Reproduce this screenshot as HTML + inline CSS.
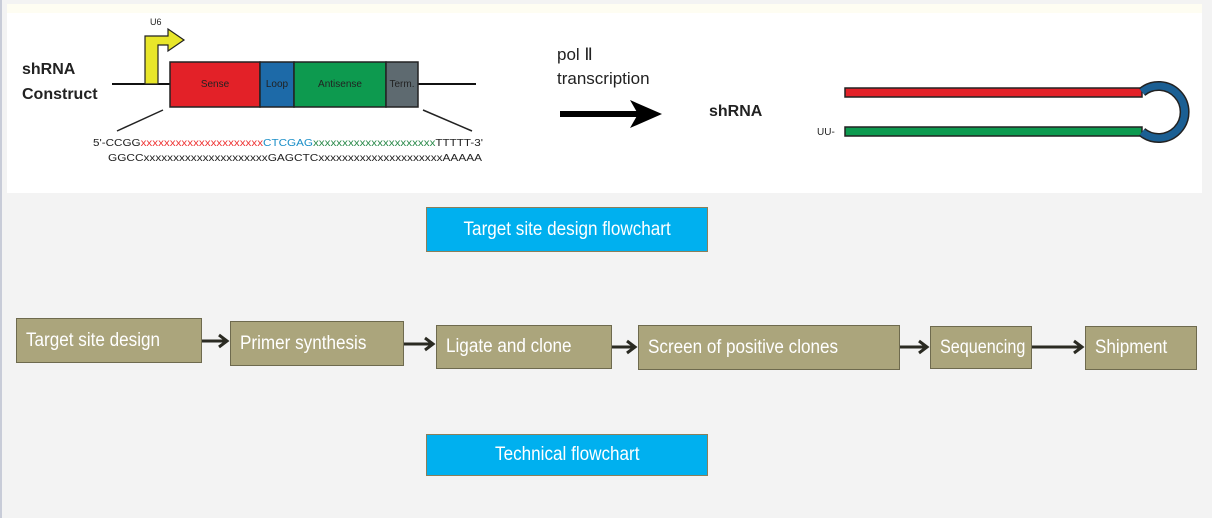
<!DOCTYPE html>
<html><head><style>
body{margin:0;width:1212px;height:518px;background:#f3f3f3;position:relative;overflow:hidden;font-family:"Liberation Sans",sans-serif}
.b{position:absolute;background:#aba57c;border:1px solid #6e6a4e;color:#fff;font-size:19px;box-sizing:border-box;display:flex;align-items:center;padding-left:9px;white-space:nowrap}
.b span,.c span{display:inline-block;transform:scaleX(0.9);transform-origin:left center}
.c{position:absolute;background:#00b0ef;border:1px solid #8a7f5a;color:#fff;font-size:19px;box-sizing:border-box;display:flex;align-items:center;justify-content:center}
.c span{transform-origin:center}
</style></head><body>
<div style="position:absolute;left:0;top:0;width:2px;height:518px;background:#c8ccd8"></div>
<svg style="position:absolute;left:0;top:0" width="1212" height="200">
<rect x="7" y="4" width="1195" height="189" fill="#fff"/>
<rect x="7" y="4" width="1195" height="9" fill="#fefdf2"/>
<text x="22" y="74" font-size="16" font-weight="bold" fill="#222">shRNA</text>
<text x="22" y="99" font-size="16" font-weight="bold" fill="#222">Construct</text>
<line x1="112" y1="84" x2="170" y2="84" stroke="#111" stroke-width="2"/>
<line x1="418" y1="84" x2="476" y2="84" stroke="#111" stroke-width="2"/>
<path d="M145 84 V36 H168 V29 L184 40 L168 51 V45 H158 V84 Z" fill="#e8e62a" stroke="#222" stroke-width="1.2"/>
<text x="150" y="25" font-size="9" fill="#222">U6</text>
<rect x="170" y="62" width="90" height="45" fill="#e32128" stroke="#222" stroke-width="1.5"/>
<rect x="260" y="62" width="34" height="45" fill="#1d6aa8" stroke="#222" stroke-width="1.5"/>
<rect x="294" y="62" width="92" height="45" fill="#0d9a4f" stroke="#222" stroke-width="1.5"/>
<rect x="386" y="62" width="32" height="45" fill="#5e6a70" stroke="#222" stroke-width="1.5"/>
<g font-size="10" fill="#222" text-anchor="middle"><text x="215" y="87">Sense</text><text x="277" y="87">Loop</text><text x="340" y="87">Antisense</text><text x="402" y="87">Term.</text></g>
<line x1="163" y1="110" x2="117" y2="131" stroke="#222" stroke-width="1.5"/>
<line x1="423" y1="110" x2="472" y2="131" stroke="#222" stroke-width="1.5"/>
<text x="93" y="146" font-size="10" fill="#222" textLength="390" lengthAdjust="spacingAndGlyphs">5'-CCGG<tspan fill="#e33">xxxxxxxxxxxxxxxxxxxxx</tspan><tspan fill="#1b8fc8">CTCGAG</tspan><tspan fill="#2a8a4a">xxxxxxxxxxxxxxxxxxxxx</tspan>TTTTT-3'</text>
<text x="108" y="161" font-size="10" fill="#222" textLength="374" lengthAdjust="spacingAndGlyphs">GGCCxxxxxxxxxxxxxxxxxxxxxGAGCTCxxxxxxxxxxxxxxxxxxxxxAAAAA</text>
<text x="557" y="60" font-size="17" fill="#222">pol Ⅱ</text>
<text x="557" y="84" font-size="17" fill="#222">transcription</text>
<line x1="560" y1="114" x2="640" y2="114" stroke="#000" stroke-width="6"/>
<path d="M630 100 L662 114 L630 128 L638 114 Z" fill="#000"/>
<text x="709" y="116" font-size="16" font-weight="bold" fill="#222">shRNA</text>
<rect x="845" y="88" width="297" height="9" fill="#e32128" stroke="#222" stroke-width="1.5"/>
<rect x="845" y="127" width="297" height="9" fill="#0d9a4f" stroke="#222" stroke-width="1.5"/>
<path d="M1142 92 A26 26 0 1 1 1142 132" fill="none" stroke="#222" stroke-width="10"/>
<path d="M1142 92 A26 26 0 1 1 1142 132" fill="none" stroke="#1b5f93" stroke-width="7"/>
<text x="817" y="135" font-size="10" fill="#222">UU-</text>
</svg>
<div class="c" style="left:426px;top:207px;width:282px;height:45px"><span>Target site design flowchart</span></div>
<div class="c" style="left:426px;top:434px;width:282px;height:42px"><span>Technical flowchart</span></div>
<div class="b" style="left:16px;top:318px;width:186px;height:45px"><span>Target site design</span></div>
<div class="b" style="left:230px;top:321px;width:174px;height:45px"><span>Primer synthesis</span></div>
<div class="b" style="left:436px;top:325px;width:176px;height:44px"><span>Ligate and clone</span></div>
<div class="b" style="left:638px;top:325px;width:262px;height:45px"><span>Screen of positive clones</span></div>
<div class="b" style="left:930px;top:326px;width:102px;height:43px;padding-left:9px"><span style="transform:scaleX(0.85)">Sequencing</span></div>
<div class="b" style="left:1085px;top:326px;width:112px;height:44px"><span>Shipment</span></div>
<svg style="position:absolute;left:0;top:0" width="1212" height="518">
<g stroke="#2a2a22" stroke-width="3" fill="none">
<path d="M202 341 H226 M219 335 L227 341 L219 347"/>
<path d="M404 344 H432 M425 338 L433 344 L425 350"/>
<path d="M612 347 H634 M627 341 L635 347 L627 353"/>
<path d="M900 347 H926 M919 341 L927 347 L919 353"/>
<path d="M1032 347 H1081 M1074 341 L1082 347 L1074 353"/>
</g></svg>
</body></html>
